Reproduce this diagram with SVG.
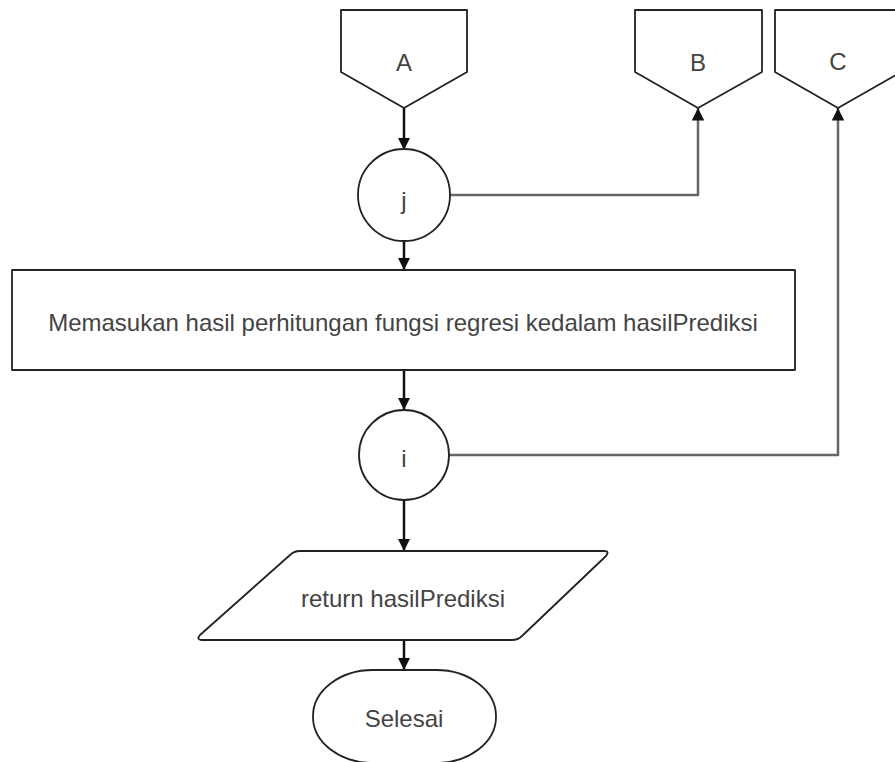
<svg xmlns="http://www.w3.org/2000/svg" width="895" height="762" viewBox="0 0 895 762">
  <defs>
    <marker id="arrow" viewBox="0 0 10 10" refX="10" refY="5" markerWidth="5" markerHeight="5" markerUnits="strokeWidth" orient="auto">
      <path d="M0,0 L10,5 L0,10 Z" fill="#111"/>
    </marker>
  </defs>
  <style>
    .shape { fill: #ffffff; stroke: #222; stroke-width: 1.8; stroke-linejoin: round; }
    .label { font-family: "Liberation Sans", Arial, sans-serif; font-size: 24px; fill: #444; text-anchor: middle; dominant-baseline: central; }
    .flow { fill: none; stroke: #111; stroke-width: 2.5; marker-end: url(#arrow); }
    .loop { fill: none; stroke: #666; stroke-width: 2.5; stroke-linejoin: round; marker-end: url(#arrow); }
  </style>
  <rect width="895" height="762" fill="#ffffff"/>

  <g id="connectors">
    <path class="flow" d="M404,108 L404,150"/>
    <path class="flow" d="M404,241 L404,270"/>
    <path class="flow" d="M404,370 L404,410"/>
    <path class="flow" d="M404,500 L404,551"/>
    <path class="flow" d="M404,640 L404,670"/>
    <path class="loop" d="M450,195 L698,195 L698,108"/>
    <path class="loop" d="M449,455 L838,455 L838,108"/>
  </g>

  <g id="offpage-a">
    <path class="shape" d="M341,10 L467,10 L467,72 L404,108 L341,72 Z"/>
    <text class="label" x="404" y="62">A</text>
  </g>
  <g id="offpage-b">
    <path class="shape" d="M635,10 L762,10 L762,72 L698,108 L635,72 Z"/>
    <text class="label" x="698" y="62">B</text>
  </g>
  <g id="offpage-c">
    <path class="shape" d="M775,10 L901,10 L901,72 L838,108 L775,72 Z"/>
    <text class="label" x="838" y="61">C</text>
  </g>

  <g id="connector-j">
    <circle class="shape" cx="404" cy="195" r="46"/>
    <text class="label" x="404" y="200">j</text>
  </g>

  <g id="process">
    <rect class="shape" x="12" y="270" width="783" height="100"/>
    <text class="label" x="403" y="322">Memasukan hasil perhitungan fungsi regresi kedalam hasilPrediksi</text>
  </g>

  <g id="connector-i">
    <circle class="shape" cx="404" cy="455" r="45"/>
    <text class="label" x="404" y="458">i</text>
  </g>

  <g id="output">
    <path class="shape" d="M300,551 L604,551 Q610,551 606,556 L522,636 Q518,640 512,640 L202,640 Q196,640 200,635 L290,555 Q294,551 300,551 Z"/>
    <text class="label" x="403" y="598">return hasilPrediksi</text>
  </g>

  <g id="terminal">
    <rect class="shape" x="313" y="670" width="183" height="93" rx="60" ry="46"/>
    <text class="label" x="404" y="718">Selesai</text>
  </g>
</svg>
